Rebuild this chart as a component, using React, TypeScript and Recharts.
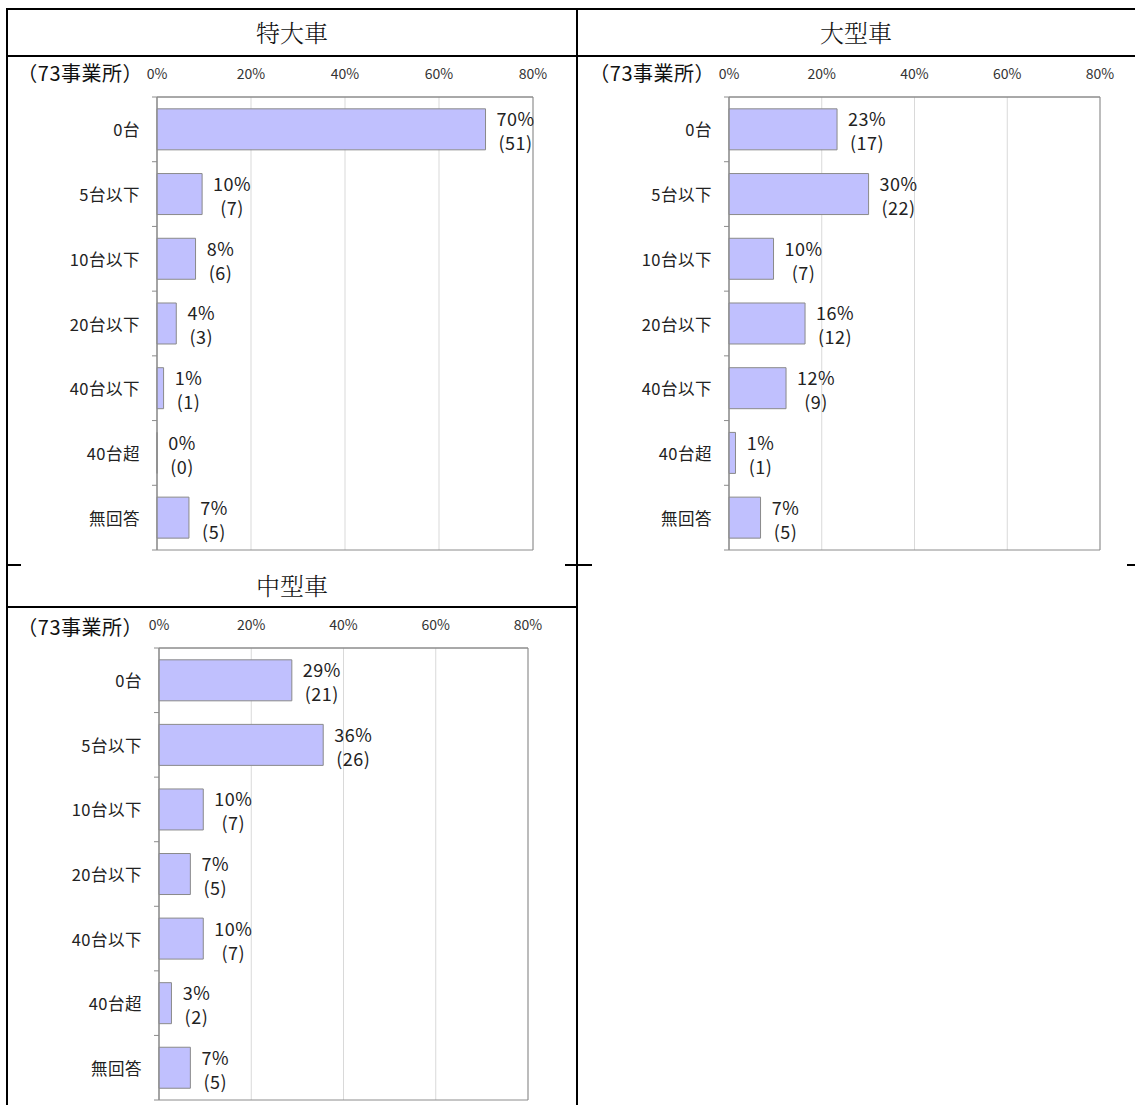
import React from 'react';
import { BarChart, Bar, XAxis, YAxis, CartesianGrid, LabelList, ReferenceArea } from 'recharts';

const categories = ['0台', '5台以下', '10台以下', '20台以下', '40台以下', '40台超', '無回答'];
const xTicks = [0, 20, 40, 60, 80];
const totalLabel = '（73事業所）';

const tokudaiTitle = '特大車';
const tokudaiPct = [69.9, 9.6, 8.2, 4.1, 1.4, 0, 6.8];
const tokudaiPctLabel = ['70%', '10%', '8%', '4%', '1%', '0%', '7%'];
const tokudaiCount = [51, 7, 6, 3, 1, 0, 5];

const ogataTitle = '大型車';
const ogataPct = [23.3, 30.1, 9.6, 16.4, 12.3, 1.4, 6.8];
const ogataPctLabel = ['23%', '30%', '10%', '16%', '12%', '1%', '7%'];
const ogataCount = [17, 22, 7, 12, 9, 1, 5];

const chugataTitle = '中型車';
const chugataPct = [28.8, 35.6, 9.6, 6.8, 9.6, 2.7, 6.8];
const chugataPctLabel = ['29%', '36%', '10%', '7%', '10%', '3%', '7%'];
const chugataCount = [21, 26, 7, 5, 7, 2, 5];

const FONT = '"Noto Sans CJK JP", "Noto Sans", sans-serif';
const BAR_FILL = '#c0c0fe';
const BAR_STROKE = '#8a8a8a';
const FRAME = '#8c8c8c';
const GRID = '#d9d9d9';

function buildRows(pct: number[], labels: string[], counts: number[]) {
  return categories.map((name, i) => ({ name, value: pct[i], label: labels[i], count: counts[i] }));
}

type PanelProps = {
  rows: any[];
  left: number;
  top: number;
  width: number;
  height: number;
  yAxisWidth: number;
  marginRight: number;
  marginBottom: number;
};

function Panel({ rows, left, top, width, height, yAxisWidth, marginRight, marginBottom }: PanelProps) {
  const marginTop = 11;
  const xAxisHeight = 30;
  const plotH = height - marginTop - xAxisHeight - marginBottom;
  const band = plotH / rows.length;

  const catTick = (p: any) => {
    const { x, y, payload, index } = p;
    const last = index === rows.length - 1;
    return (
      <g>
        <line x1={x - 5} x2={x} y1={y - band / 2} y2={y - band / 2} stroke={FRAME} strokeWidth={1} />
        {last && <line x1={x - 5} x2={x} y1={y + band / 2} y2={y + band / 2} stroke={FRAME} strokeWidth={1} />}
        <text x={x - 17} y={y} textAnchor="end" dominantBaseline="central" fontSize={16.5} letterSpacing={0.5} fill="#222" fontFamily={FONT}>
          {payload.value}
        </text>
      </g>
    );
  };

  const xTick = (p: any) => {
    const { x, y, payload } = p;
    return (
      <text x={x} y={y - 24} textAnchor="middle" dominantBaseline="central" fontSize={14} fill="#333" fontFamily={FONT}>
        {`${payload.value}%`}
      </text>
    );
  };

  const renderLabel = (p: any) => {
    const { x, y, width: w, height: h, value } = p;
    const row = rows.find((r) => r.name === value);
    if (!row) return null;
    const endX = Number(x) + Math.max(0, Number(w || 0));
    const cy = Number(y) + Number(h || 0) / 2;
    const tw = (row.label.length - 1) * 10 + 16;
    const cx = endX + 12 + tw / 2;
    return (
      <g>
        <text x={cx} y={cy - 11} textAnchor="middle" dominantBaseline="central" fontSize={18} letterSpacing={0.5} fill="#222" fontFamily={FONT}>
          {row.label}
        </text>
        <text x={cx} y={cy + 13} textAnchor="middle" dominantBaseline="central" fontSize={18} letterSpacing={0.5} fill="#222" fontFamily={FONT}>
          {`(${row.count})`}
        </text>
      </g>
    );
  };

  return (
    <div style={{ position: 'absolute', left, top, width, height }}>
      <BarChart
        width={width}
        height={height}
        data={rows}
        layout="vertical"
        margin={{ top: marginTop, right: marginRight, bottom: marginBottom, left: 0 }}
        barCategoryGap="18.3%"
      >
        <CartesianGrid horizontal={false} vertical={true} stroke={GRID} />
        <XAxis
          type="number"
          orientation="top"
          domain={[0, 80]}
          ticks={xTicks}
          interval={0}
          height={xAxisHeight}
          tickSize={0}
          tickMargin={0}
          tickLine={false}
          axisLine={{ stroke: FRAME }}
          tick={xTick}
        />
        <YAxis
          type="category"
          dataKey="name"
          width={yAxisWidth}
          tickSize={0}
          tickMargin={0}
          tickLine={false}
          interval={0}
          axisLine={{ stroke: FRAME }}
          tick={catTick}
        />
        <ReferenceArea x1={0} x2={80} fill="none" fillOpacity={0} stroke={FRAME} strokeWidth={1} ifOverflow="visible" />
        <Bar
          dataKey="value"
          fill={BAR_FILL}
          stroke={BAR_STROKE}
          strokeWidth={1}
          isAnimationActive={false}
          minPointSize={(v: number) => (v === 0 ? 0.01 : 0)}
        >
          <LabelList dataKey="name" content={renderLabel} />
        </Bar>
      </BarChart>
    </div>
  );
}

const lineStyle = (left: number, top: number, width: number, height: number): React.CSSProperties => ({
  position: 'absolute',
  left,
  top,
  width,
  height,
  background: '#000',
});

function Title({ text, left, top, width }: { text: string; left: number; top: number; width: number }) {
  return (
    <div
      style={{
        position: 'absolute',
        left,
        top,
        width,
        height: 46,
        lineHeight: '46px',
        textAlign: 'center',
        fontSize: 24,
        fontWeight: 300,
        fontFamily: '"Noto Serif CJK JP", "Noto Sans CJK JP", serif',
        color: '#111',
      }}
    >
      {text}
    </div>
  );
}

function Count({ right, top }: { right: number; top: number }) {
  return (
    <div
      style={{
        position: 'absolute',
        left: right - 130,
        width: 130,
        top: top - 14,
        height: 28,
        lineHeight: '28px',
        textAlign: 'right',
        fontSize: 20,
        letterSpacing: 0.5,
        fontFamily: FONT,
        color: '#111',
        whiteSpace: 'nowrap',
      }}
    >
      {totalLabel}
    </div>
  );
}

export default function App() {
  const rows1 = buildRows(tokudaiPct, tokudaiPctLabel, tokudaiCount);
  const rows2 = buildRows(ogataPct, ogataPctLabel, ogataCount);
  const rows3 = buildRows(chugataPct, chugataPctLabel, chugataCount);
  return (
    <div style={{ position: 'absolute', left: 0, top: 0, width: 1135, height: 1105, background: '#fff', overflow: 'hidden' }}>
      <Title text={tokudaiTitle} left={7} top={9} width={570} />
      <Title text={ogataTitle} left={577} top={9} width={558} />
      <Title text={chugataTitle} left={7} top={562} width={570} />

      <Panel rows={rows1} left={0} top={56} width={577} height={509} yAxisWidth={157} marginRight={44} marginBottom={15} />
      <Panel rows={rows2} left={577} top={56} width={558} height={509} yAxisWidth={152} marginRight={35} marginBottom={15} />
      <Panel rows={rows3} left={0} top={607} width={577} height={498} yAxisWidth={159} marginRight={49} marginBottom={5} />

      <Count right={143} top={73} />
      <Count right={715} top={73} />
      <Count right={143} top={627} />

      <div style={lineStyle(7, 8, 1128, 2)} />
      <div style={lineStyle(6, 8, 2, 1097)} />
      <div style={lineStyle(576, 8, 2, 1097)} />
      <div style={lineStyle(7, 55, 1128, 2)} />
      <div style={lineStyle(7, 564, 14, 2)} />
      <div style={lineStyle(565, 564, 27, 2)} />
      <div style={lineStyle(1127, 564, 8, 2)} />
      <div style={lineStyle(7, 606, 570, 2)} />
    </div>
  );
}
